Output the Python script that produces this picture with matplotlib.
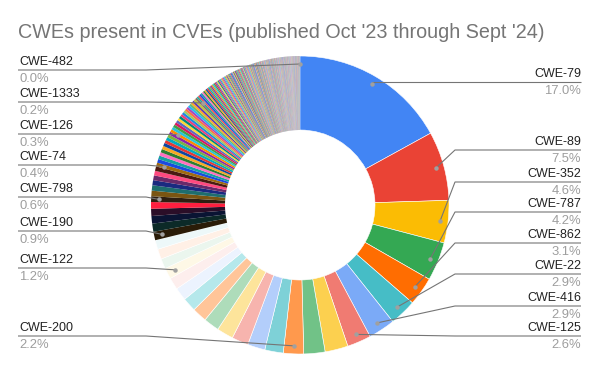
import matplotlib
matplotlib.use("Agg")
import matplotlib.pyplot as plt
import numpy as np
from matplotlib.colors import to_rgb

# ---------------- data (percent of CVEs per CWE, sorted descending) ----------------
head_values = [17.0, 7.5, 4.6, 4.2, 3.1, 2.9, 2.9, 2.6, 2.5, 2.3, 2.2, 2.0,
               1.9, 1.8, 1.8, 1.7, 1.6, 1.5, 1.4, 1.3, 1.2, 1.1, 1.1, 1.0]
mid_values = [0.92, 0.88, 0.82, 0.78, 0.72, 0.62,
              0.60, 0.58, 0.55, 0.52, 0.50, 0.48, 0.42,
              0.40, 0.39, 0.38, 0.37, 0.36, 0.35, 0.34, 0.34, 0.33, 0.32, 0.31,
              0.30, 0.29, 0.29, 0.28, 0.27, 0.27, 0.26, 0.26, 0.25, 0.25, 0.24,
              0.24, 0.23, 0.23, 0.22, 0.22, 0.21, 0.20]
tail_values = [0.19, 0.19, 0.18, 0.18, 0.17, 0.17, 0.16, 0.16, 0.15, 0.15, 0.15,
               0.14, 0.14, 0.14, 0.14, 0.13, 0.13, 0.13, 0.13,
               0.12, 0.12, 0.12, 0.12, 0.12, 0.11, 0.11, 0.11, 0.11, 0.11,
               0.10, 0.10, 0.10, 0.10, 0.10, 0.10, 0.10, 0.10,
               0.09, 0.09, 0.09, 0.09, 0.09, 0.09, 0.09, 0.09, 0.09,
               0.08, 0.08, 0.08, 0.08, 0.08, 0.08, 0.08, 0.08, 0.08, 0.08,
               0.07, 0.07, 0.07, 0.07, 0.07, 0.07, 0.07, 0.07, 0.07, 0.07, 0.07,
               0.06, 0.06, 0.06, 0.06, 0.06, 0.06, 0.06, 0.06,
               0.06, 0.06, 0.06, 0.06, 0.06, 0.06, 0.06, 0.06,
               0.05, 0.05, 0.05, 0.05, 0.05, 0.05, 0.05, 0.05, 0.05, 0.05,
               0.05, 0.05, 0.05, 0.05, 0.05, 0.05, 0.05, 0.05, 0.05, 0.05,
               0.05, 0.05, 0.05, 0.05, 0.05, 0.05, 0.05, 0.05, 0.05, 0.05,
               0.05, 0.05, 0.05, 0.05, 0.05, 0.05, 0.05, 0.05, 0.05, 0.05,
               0.04, 0.04, 0.04, 0.04, 0.04, 0.04, 0.04, 0.04, 0.04, 0.04, 0.04,
               0.04, 0.04, 0.04, 0.04, 0.04, 0.04, 0.04, 0.04, 0.04, 0.04, 0.04,
               0.04, 0.04, 0.04, 0.04, 0.04, 0.04, 0.04, 0.04, 0.04, 0.04, 0.04,
               0.04, 0.04, 0.04, 0.04, 0.04, 0.04, 0.04, 0.04, 0.04, 0.04, 0.04,
               0.03]
values = head_values + mid_values + tail_values

# labelled slices (name, slice index)
right_names = ["CWE-79", "CWE-89", "CWE-352", "CWE-787", "CWE-862", "CWE-22", "CWE-416", "CWE-125"]
right_index = [0, 1, 2, 3, 4, 5, 6, 7]
left_names = ["CWE-482", "CWE-1333", "CWE-126", "CWE-74", "CWE-798", "CWE-190", "CWE-122", "CWE-200"]
left_index = [len(values) - 1, 65, 47, 36, 29, 24, 20, 10]

title = "CWEs present in CVEs (published Oct '23 through Sept '24)"

# ---------------- styles ----------------
W, H = 600, 371
google = ["#4285F4", "#EA4335", "#FBBC04", "#34A853", "#FF6D01", "#46BDC6",
          "#7BAAF7", "#F07B72", "#FCD04F", "#71C287", "#FF994D", "#7ED1D7",
          "#B3CEFB", "#F7B4AE", "#FDE49B", "#AEDCBA", "#FFC599", "#B5E8EB",
          "#ECF3FE", "#FDEEED", "#FEF8E6", "#EBF6EE", "#FFF0E6", "#EDF8F9"]
dark = ["#2A1C08", "#0C2A28", "#0A1433", "#2B0E28", "#FF1F3F", "#2E1E10",
        "#7A5512", "#1E6E6E", "#1A2A80", "#6A2A6A", "#FF4A80", "#4A1A12", "#A06A10"]
vivid = ["#1A4AE0", "#18A0A0", "#FF70C0", "#2E7D32", "#F9A825", "#0D47A1",
         "#E53935", "#00ACC1", "#7CB342", "#8E24AA", "#FB8C00", "#26C6DA",
         "#43A047", "#D81B60", "#5C6BC0", "#FDD835", "#00897B", "#EC407A",
         "#1E88E5", "#9CCC65", "#FF7043", "#AB47BC", "#29B6F6", "#66BB6A",
         "#FFA726", "#5E35B1", "#C0CA33", "#8D6E63", "#26A69A", "#EF5350"]
colors = google + dark
n_rest = len(values) - len(colors)
fade = np.array(to_rgb("#BDB3CC"))
for k in range(n_rest):
    c = np.array(to_rgb(vivid[k % len(vivid)]))
    f = min(0.6, max(0.0, (k - 25) / n_rest * 0.9))
    colors.append(tuple(c * (1 - f) + fade * f))

plt.rcParams["font.family"] = ["Liberation Sans", "DejaVu Sans"]
fig = plt.figure(figsize=(W / 100, H / 100), dpi=100)
ax = fig.add_axes([0, 0, 1, 1])

cx, cy, R, w = 300, H - 205, 149, 74
wedges, _ = ax.pie(values, colors=colors, startangle=90, counterclock=False,
                   center=(cx, cy), radius=R, frame=True,
                   wedgeprops=dict(width=w, edgecolor="white", linewidth=0.4))
for k, wd in enumerate(wedges):
    if k >= 24:
        wd.set_linewidth(0)
ax.set_xlim(0, W)
ax.set_ylim(0, H)
ax.set_aspect("equal")
ax.axis("off")

total = sum(values)

fig.text(18 / W, 1 - 32 / H, title, fontsize=14.2, color="#757575", va="center", ha="left")

line_c = "#757575"
dot_c = "#A0A0A0"


def dot_pos(i):
    wd = wedges[i]
    th = np.deg2rad((wd.theta1 + wd.theta2) / 2)
    r = R - 8
    return cx + r * np.cos(th), cy + r * np.sin(th)


right_line_y = [82, 150, 182, 212, 243, 274, 306, 336]
for name, i, ly in zip(right_names, right_index, right_line_y):
    px, py = dot_pos(i)
    yy = H - ly
    ex = 455 if i > 0 else px
    ax.plot([px, ex, 581], [py, yy, yy], color=line_c, lw=0.8, solid_capstyle="butt")
    ax.plot([px], [py], "o", ms=3.2, color=dot_c, mec="none")
    ax.text(581, yy + 8, name, fontsize=9, color="#222222", ha="right", va="center")
    ax.text(581, yy - 9, f"{100 * values[i] / total:.1f}%", fontsize=9.4,
            color="#9E9E9E", ha="right", va="center")

left_line_y = [70, 102, 134, 165, 197, 231, 268, 336]
for name, i, ly in zip(left_names, left_index, left_line_y):
    px, py = dot_pos(i)
    yy = H - ly
    ex = 146
    ax.plot([px, ex, 18], [py, yy, yy], color=line_c, lw=0.8, solid_capstyle="butt")
    ax.plot([px], [py], "o", ms=3.2, color=dot_c, mec="none")
    ax.text(19, yy + 8, name, fontsize=9, color="#222222", ha="left", va="center")
    ax.text(19, yy - 9, f"{100 * values[i] / total:.1f}%", fontsize=9.4,
            color="#9E9E9E", ha="left", va="center")

fig.savefig("out.png", dpi=100, facecolor="white")
